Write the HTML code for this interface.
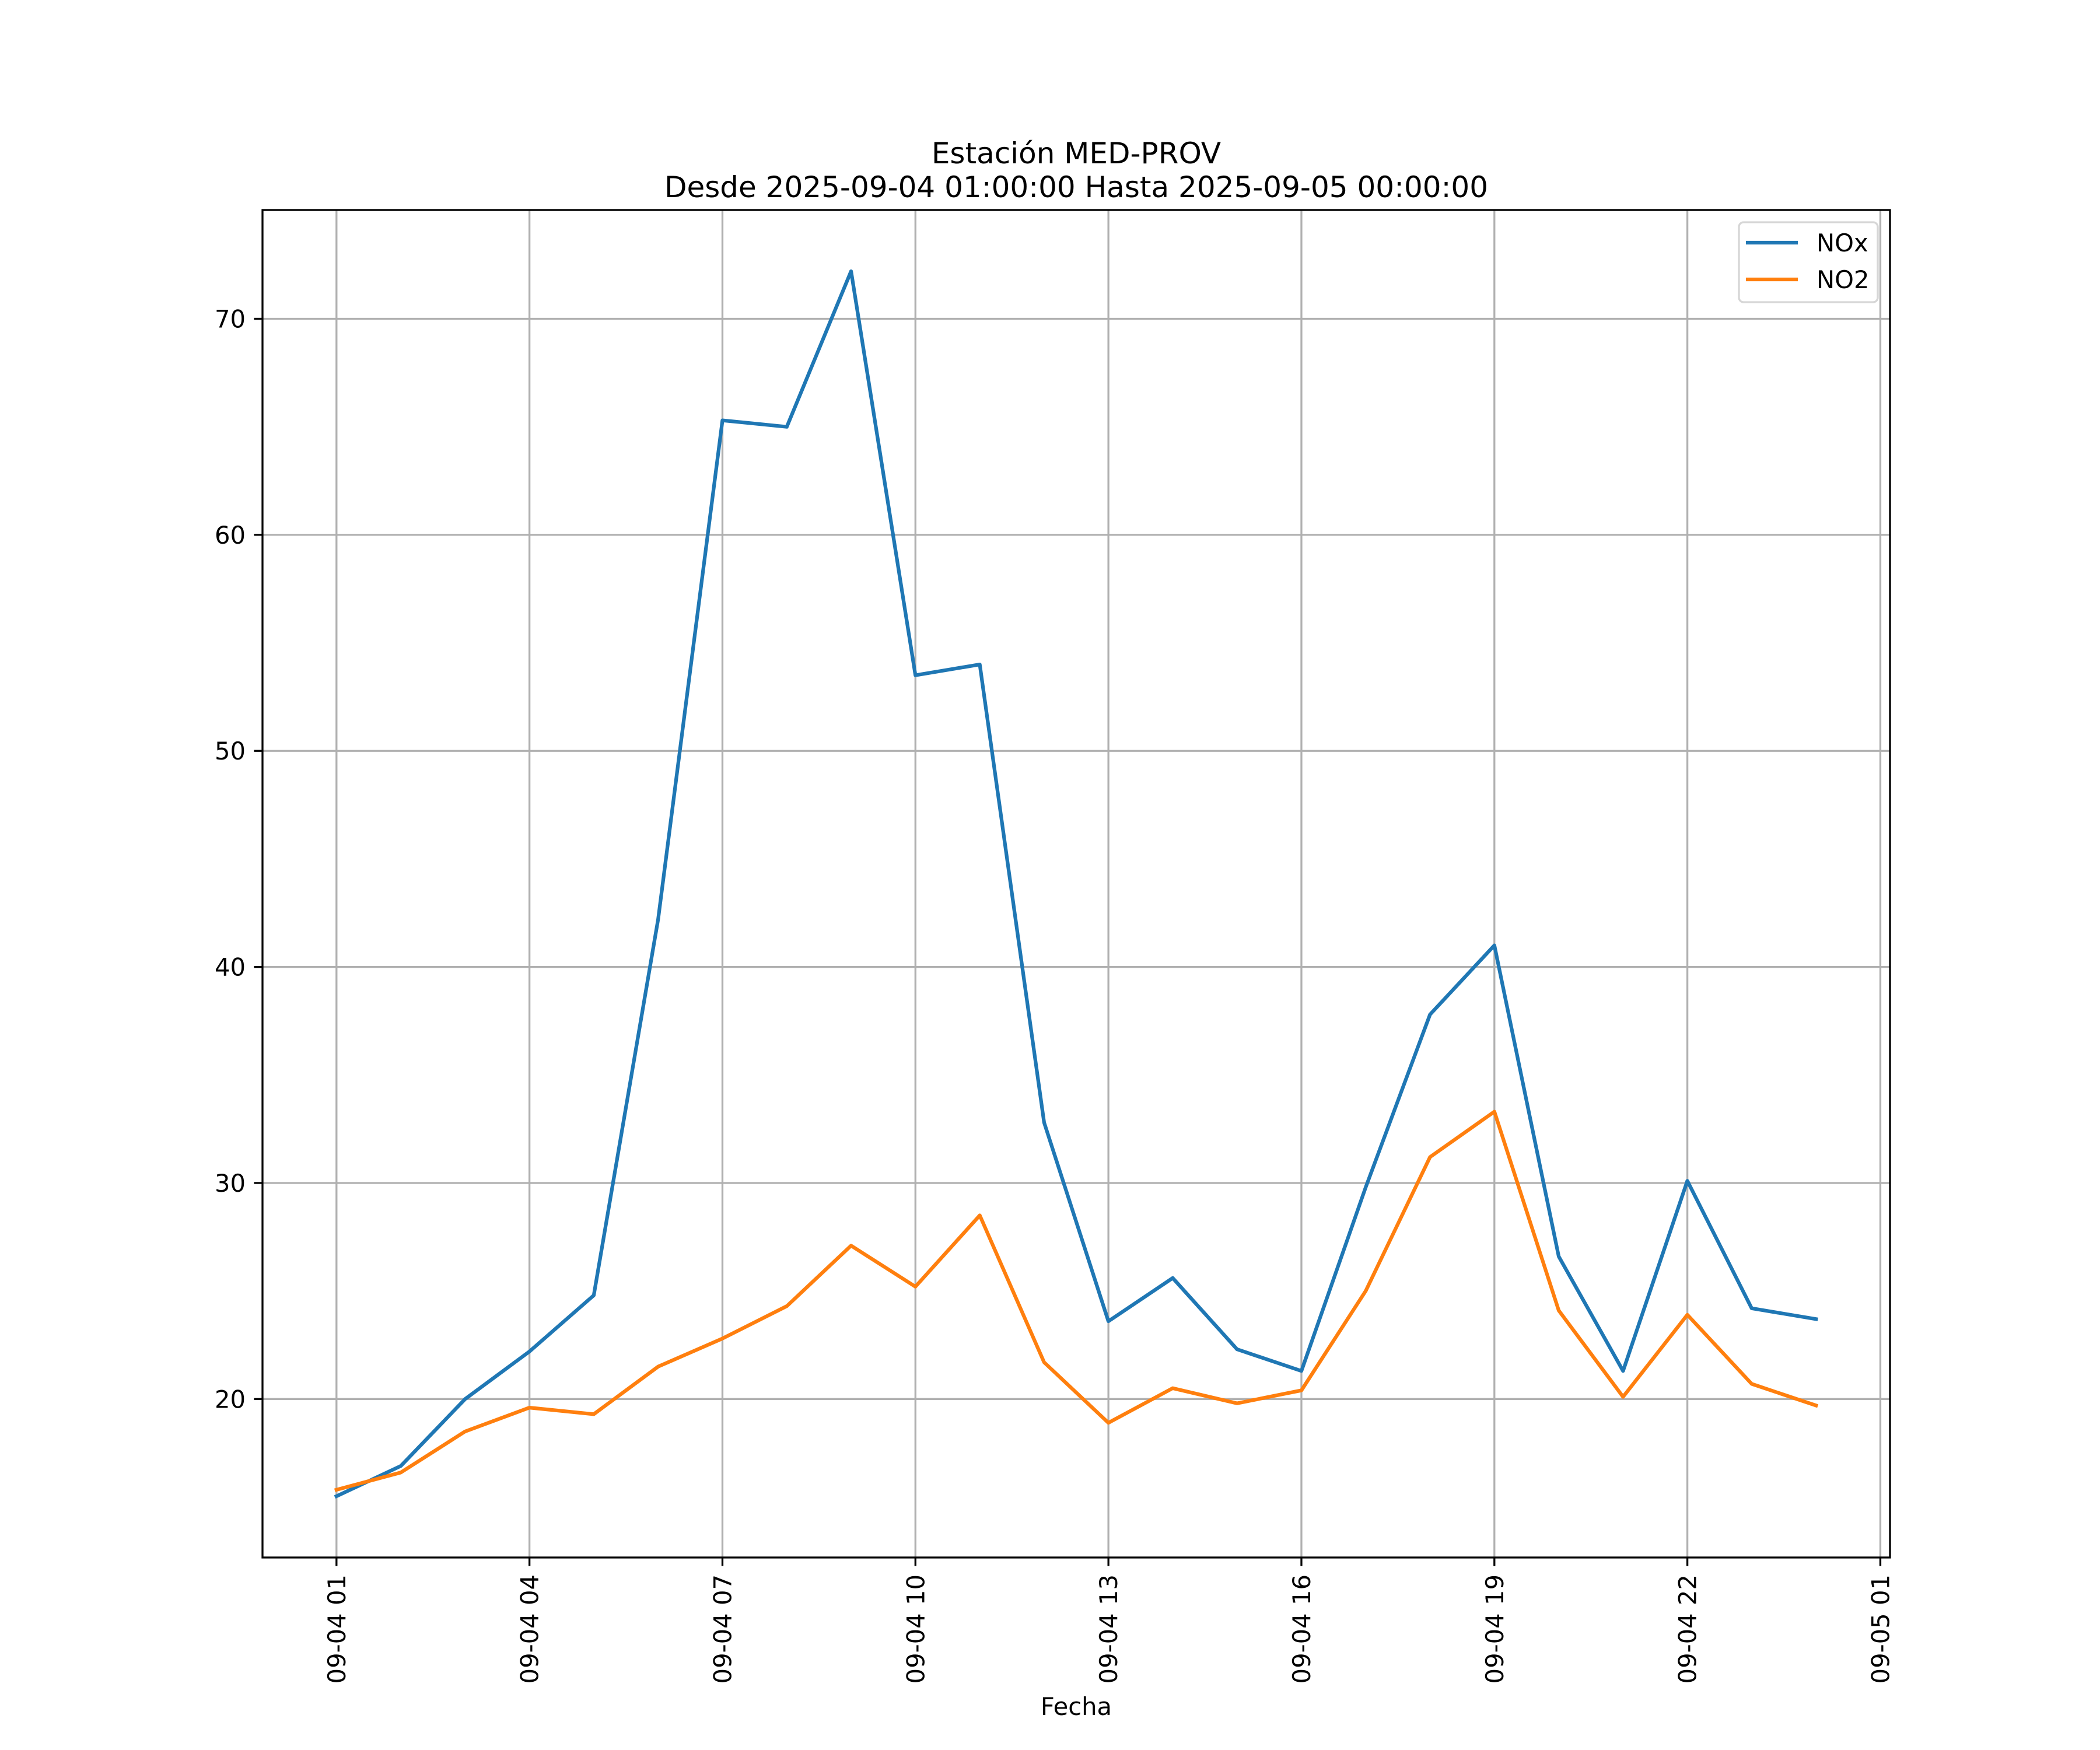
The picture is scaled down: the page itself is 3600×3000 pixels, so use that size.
<!DOCTYPE html>
<html><head><meta charset="utf-8"><style>
html,body{margin:0;padding:0;background:#fff;}
svg{display:block;font-family:"DejaVu Sans","Liberation Sans",sans-serif;}
</style></head><body>
<svg id="chart" width="3600" height="3000" viewBox="0 0 3600 3000">
<rect width="3600" height="3000" fill="#fff"/>
<text x="1845" y="280" font-size="50" text-anchor="middle">Estación MED-PROV</text>
<text x="1845" y="338" font-size="50" text-anchor="middle">Desde 2025-09-04 01:00:00 Hasta 2025-09-05 00:00:00</text>
<g id="grid"></g>
<g id="series"></g>
<rect x="450" y="360" width="2790" height="2310" fill="none" stroke="#000" stroke-width="3.3"/>
<g id="ticks"></g>
<text x="1845" y="2940" font-size="41.7" text-anchor="middle">Fecha</text>
<g>
<rect x="2981" y="381" width="238" height="137" rx="8" fill="#fff" fill-opacity="0.8" stroke="#d6d6d6" stroke-width="3.3"/>
<line x1="2993" y1="416" x2="3082" y2="416" stroke="#1f77b4" stroke-width="6.25"/>
<text x="3114" y="431" font-size="41.7">NOx</text>
<line x1="2993" y1="479" x2="3082" y2="479" stroke="#ff7f0e" stroke-width="6.25"/>
<text x="3114" y="494" font-size="41.7">NO2</text>
</g>
</svg>
<script>
const hours = [1,2,3,4,5,6,7,8,9,10,11,12,13,14,15,16,17,18,19,20,21,22,23,24];
const noxValues = [15.5,16.9,20.0,22.2,24.8,42.2,65.3,65.0,72.2,53.5,54.0,32.8,23.6,25.6,22.3,21.3,29.8,37.8,41.0,26.6,21.3,30.1,24.2,23.7];
const no2Values = [15.8,16.6,18.5,19.6,19.3,21.5,22.8,24.3,27.1,25.2,28.5,21.7,18.9,20.5,19.8,20.4,25.0,31.2,33.3,24.1,20.1,23.9,20.7,19.7];
const xTickHours = [1,4,7,10,13,16,19,22,25];
const xTickLabels = ["09-04 01","09-04 04","09-04 07","09-04 10","09-04 13","09-04 16","09-04 19","09-04 22","09-05 01"];
const yTickValues = [20,30,40,50,60,70];

const NS="http://www.w3.org/2000/svg";
const L=450,R=3240,T=360,B=2670;
const hMin=Math.min(...hours),hMax=Math.max(...hours),hm=(hMax-hMin)*0.05;
const x0=hMin-hm,x1=hMax+hm;
const all=noxValues.concat(no2Values);
const vMin=Math.min(...all),vMax=Math.max(...all),vm=(vMax-vMin)*0.05;
const y0=vMin-vm,y1=vMax+vm;
const xs=h=>L+(h-x0)/(x1-x0)*(R-L);
const ys=v=>B-(v-y0)/(y1-y0)*(B-T);
function mk(tag,attrs,parent){const e=document.createElementNS(NS,tag);for(const k in attrs)e.setAttribute(k,attrs[k]);parent.appendChild(e);return e;}
const grid=document.getElementById('grid'),ticks=document.getElementById('ticks'),series=document.getElementById('series');
xTickHours.forEach((h,i)=>{
  const x=xs(h);
  const g=mk('line',{x1:x,x2:x,y1:T,y2:B,stroke:'#b0b0b0','stroke-width':3.3},grid);
  
  
  const t=mk('line',{x1:x,x2:x,y1:B,y2:B+14.6,stroke:'#000','stroke-width':3.3},ticks);
  
  
  const lb=mk('text',{x:0,y:0,'font-size':41.7,'text-anchor':'end',transform:`translate(${x+15},${B+29}) rotate(-90)`},ticks);
  lb.textContent=xTickLabels[i];
  
  
});
yTickValues.forEach(v=>{
  const y=ys(v);
  const g=mk('line',{x1:L,x2:R,y1:y,y2:y,stroke:'#b0b0b0','stroke-width':3.3},grid);
  
  
  const t=mk('line',{x1:L-14.6,x2:L,y1:y,y2:y,stroke:'#000','stroke-width':3.3},ticks);
  
  
  const lb=mk('text',{x:L-29,y:y+15,'font-size':41.7,'text-anchor':'end'},ticks);
  lb.textContent=String(v);
  
  
});
function line(vals,color,name){
  const pts=vals.map((v,i)=>xs(hours[i]).toFixed(1)+','+ys(v).toFixed(1)).join(' ');
  const p=mk('polyline',{points:pts,fill:'none',stroke:color,'stroke-width':6.25,'stroke-linejoin':'round','stroke-linecap':'square'},series);
  
  
}
line(noxValues,'#1f77b4','nox-line');
line(no2Values,'#ff7f0e','no2-line');
</script>
</body></html>
